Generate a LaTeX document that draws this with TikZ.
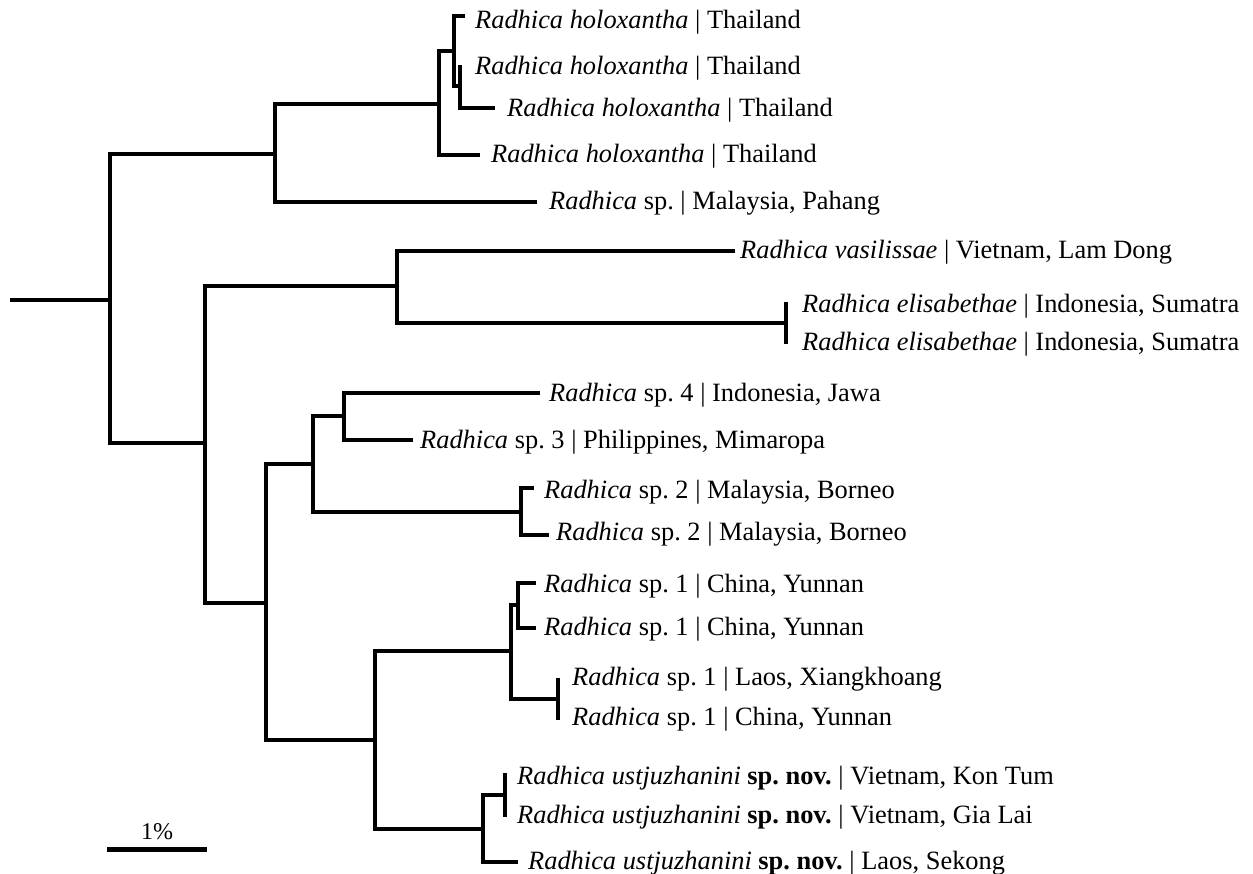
\documentclass[tikz,border=0pt]{standalone}
\usepackage{fontspec}
\setmainfont{Liberation Serif}
\frenchspacing
\begin{document}
\begin{tikzpicture}[
    x=1pt, y=-1pt,
    branch/.style={line width=4.2pt},
    taxon/.style={anchor=west, inner sep=0pt, text height=18.4pt, text depth=1pt,
        font=\fontsize{26.4}{30}\selectfont}
]
\useasboundingbox (0,0) rectangle (1253,873);
\coordinate (r0) at (10,300);
\coordinate (R) at (110,300);
\coordinate (A) at (275,154);
\coordinate (B1) at (439,104);
\coordinate (B2) at (454,51);
\coordinate (C) at (460,86);
\coordinate (D) at (205,443);
\coordinate (E) at (397,286);
\coordinate (Ell) at (786,323);
\coordinate (F) at (266,603);
\coordinate (H) at (313,464);
\coordinate (G) at (344,416);
\coordinate (S2) at (521,512);
\coordinate (I) at (375,740);
\coordinate (J) at (511,651);
\coordinate (K) at (518,605);
\coordinate (L) at (558,699);
\coordinate (M) at (483,829);
\coordinate (N) at (505,795);

\coordinate (t1) at (465,16);  \node[taxon] (n1) at (475,20) {\textit{Radhica holoxantha} | Thailand};
\coordinate (t2) at (460,65);  \node[taxon] (n2) at (475,66) {\textit{Radhica holoxantha} | Thailand};
\coordinate (t3) at (495,108); \node[taxon] (n3) at (507,108) {\textit{Radhica holoxantha} | Thailand};
\coordinate (t4) at (480,155); \node[taxon] (n4) at (491,154) {\textit{Radhica holoxantha} | Thailand};
\coordinate (t5) at (537,202); \node[taxon] (n5) at (549,201) {\textit{Radhica} sp. | Malaysia, Pahang};
\coordinate (t6) at (735,251); \node[taxon] (n6) at (740,250) {\textit{Radhica vasilissae} | Vietnam, Lam Dong};
\coordinate (t7) at (786,302); \node[taxon] (n7) at (802,304) {\textit{Radhica elisabethae} | Indonesia, Sumatra};
\coordinate (t8) at (786,344); \node[taxon] (n8) at (802,342) {\textit{Radhica elisabethae} | Indonesia, Sumatra};
\coordinate (t9) at (540,393); \node[taxon] (n9) at (549,393) {\textit{Radhica} sp. 4 | Indonesia, Jawa};
\coordinate (t10) at (413,440); \node[taxon] (n10) at (420,440) {\textit{Radhica} sp. 3 | Philippines, Mimaropa};
\coordinate (t11) at (534,488); \node[taxon] (n11) at (544,490) {\textit{Radhica} sp. 2 | Malaysia, Borneo};
\coordinate (t12) at (549,535); \node[taxon] (n12) at (556,532) {\textit{Radhica} sp. 2 | Malaysia, Borneo};
\coordinate (t13) at (536,583); \node[taxon] (n13) at (544,584) {\textit{Radhica} sp. 1 | China, Yunnan};
\coordinate (t14) at (536,628); \node[taxon] (n14) at (544,627) {\textit{Radhica} sp. 1 | China, Yunnan};
\coordinate (t15) at (558,678); \node[taxon] (n15) at (572,677) {\textit{Radhica} sp. 1 | Laos, Xiangkhoang};
\coordinate (t16) at (558,720); \node[taxon] (n16) at (572,717) {\textit{Radhica} sp. 1 | China, Yunnan};
\coordinate (t17) at (505,773); \node[taxon] (n17) at (517,776) {\textit{Radhica ustjuzhanini} \textbf{sp. nov.} | Vietnam, Kon Tum};
\coordinate (t18) at (505,817); \node[taxon] (n18) at (517,815) {\textit{Radhica ustjuzhanini} \textbf{sp. nov.} | Vietnam, Gia Lai};
\coordinate (t19) at (518,862); \node[taxon] (n19) at (528,861) {\textit{Radhica ustjuzhanini} \textbf{sp. nov.} | Laos, Sekong};

\draw[branch] (r0) -- (R);
\draw[branch] (A) -| (R) |- (D);
\draw[branch] (B1) -| (A) |- (t5);
\draw[branch] (B2) -| (B1) |- (t4);
\draw[branch] (t1) -| (B2) |- (C);
\draw[branch] (t2) -| (C) |- (t3);
\draw[branch] (E) -| (D) |- (F);
\draw[branch] (t6) -| (E) |- (Ell);
\draw[branch] (t7) -| (Ell) |- (t8);
\draw[branch] (H) -| (F) |- (I);
\draw[branch] (G) -| (H) |- (S2);
\draw[branch] (t9) -| (G) |- (t10);
\draw[branch] (t11) -| (S2) |- (t12);
\draw[branch] (J) -| (I) |- (M);
\draw[branch] (K) -| (J) |- (L);
\draw[branch] (t13) -| (K) |- (t14);
\draw[branch] (t15) -| (L) |- (t16);
\draw[branch] (N) -| (M) |- (t19);
\draw[branch] (t17) -| (N) |- (t18);

\coordinate (s1) at (107,849);
\coordinate (s2) at (207,849);
\draw[line width=5pt] (s1) -- (s2);
\node[inner sep=0pt, font=\fontsize{24}{28}\selectfont] (pct) at (157,832) {1\%};
\end{tikzpicture}
\end{document}
